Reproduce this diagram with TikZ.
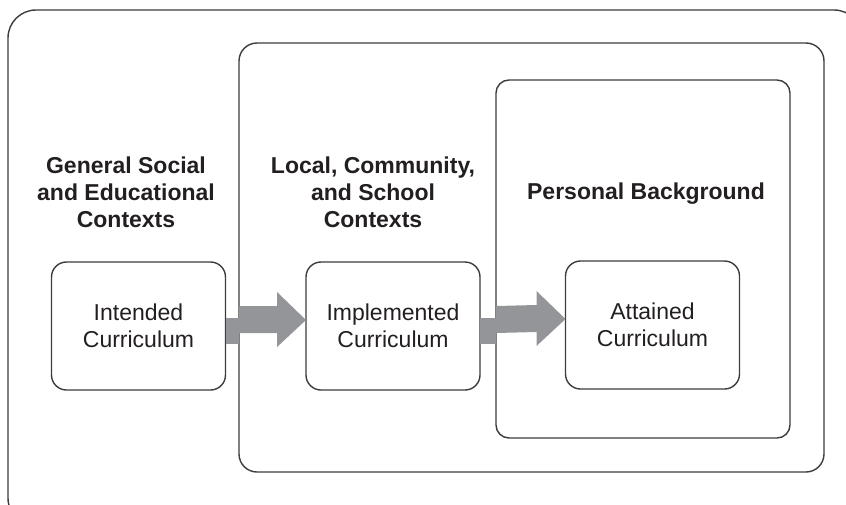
\documentclass[tikz,border=0pt]{standalone}
\usepackage{fontspec}
\setmainfont{Liberation Sans}
\usepackage{tikz}
\usetikzlibrary{positioning, calc}
\definecolor{linegray}{HTML}{3C3C3C}
\definecolor{arrowgray}{HTML}{939598}
\definecolor{inkblack}{HTML}{231F20}
\tikzset{
    x=0.5pt, y=-0.5pt, % one unit is one pixel of the layout, y runs downwards
    frame/.style={draw=linegray, line width=0.7pt, inner sep=0pt, outer sep=0pt}, % the context frames
    curbox/.style={frame, rounded corners=7.5pt, minimum width=87pt, minimum height=64pt,
        align=center, text=inkblack, font=\fontsize{11.5}{13.5}\selectfont}, % the curriculum boxes
    heading/.style={align=center, text=inkblack, inner sep=0pt,
        font=\fontsize{11.5}{13.5}\selectfont\bfseries}, % the context titles
}
% gray block arrow from one box, through a frame, into the next box
\newcommand{\flowarrow}[3]{%
    \fill[arrowgray] ($(#1.east)+(0,-8)$) rectangle ($(#2.west|-#1.east)+(0,18)$);
    \fill[arrowgray] ($(#2.west|-#1.east)+(0,-20)$) -- ($(#3.west)+(-29,-20)$)
        -- ($(#3.west)+(-29,-34)$) -- ($(#3.west)+(0,-6)$) -- ($(#3.west)+(-29,21)$)
        -- ($(#3.west)+(-29,7)$) -- ($(#2.west|-#1.east)+(0,7)$) -- cycle;
}

\begin{document}
\begin{tikzpicture}
    \useasboundingbox (0,0) rectangle (846,504);
    \clip (0,0) rectangle (846,504);

    % context frames
    \node[frame, rounded corners=14pt, minimum width=427pt, minimum height=258pt] (general) at (435,268) {};
    \node[frame, rounded corners=9pt, minimum width=292.5pt, minimum height=214.5pt] (local) at (531.5,257.5) {};
    \node[frame, rounded corners=6.5pt, minimum width=147pt, minimum height=179pt] (personal) at (643,259) {};

    % titles
    \node[heading] (generaltitle) at (126,192) {General Social\\and Educational\\Contexts};
    \node[heading] (localtitle) at (373,192) {Local, Community,\\and School\\Contexts};
    \node[heading] (personaltitle) at (646,194) {Personal Background};

    % curriculum boxes
    \node[curbox] (intended) at (138.5,326) {Intended\\Curriculum};
    \node[curbox] (implemented) at (393,326) {Implemented\\Curriculum};
    \node[curbox] (attained) at (652.5,325) {Attained\\Curriculum};

    % arrows
    \flowarrow{intended}{local}{implemented}
    \flowarrow{implemented}{personal}{attained}
\end{tikzpicture}
\end{document}
